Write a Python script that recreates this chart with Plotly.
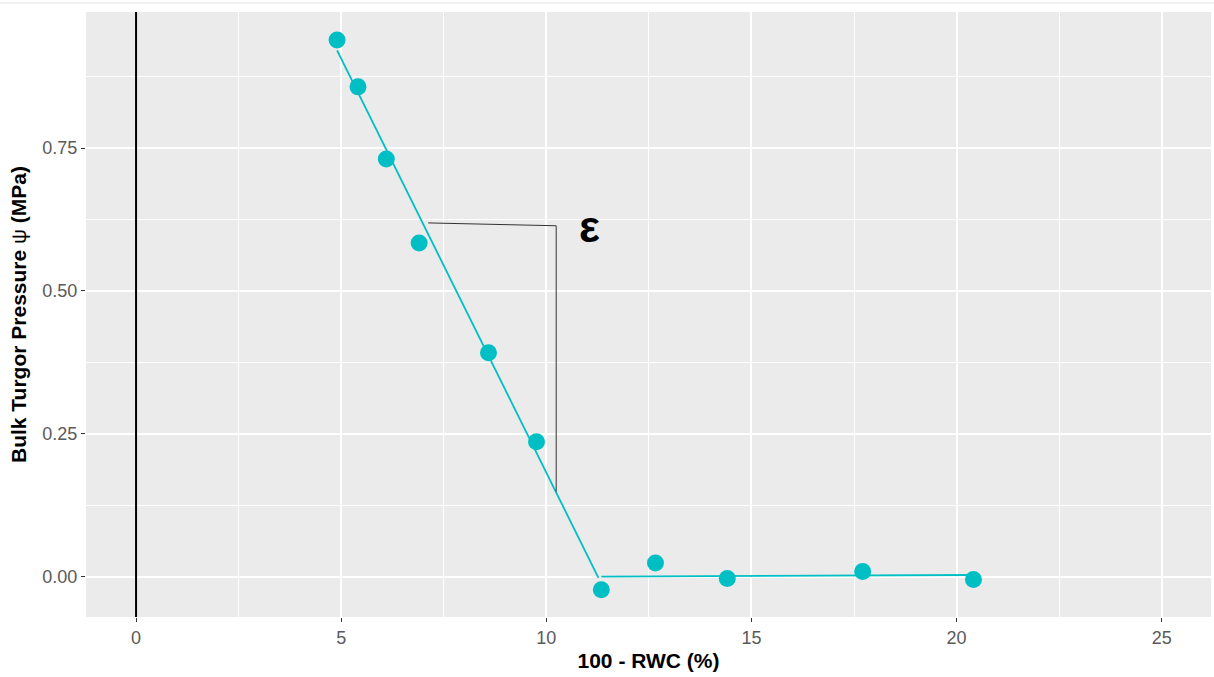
import plotly.graph_objects as go

# Data
rwc_loss = [4.90, 5.41, 6.10, 6.90, 8.59, 9.76, 11.34, 12.66, 14.41, 17.71, 20.41]
turgor = [0.939, 0.857, 0.731, 0.584, 0.392, 0.236, -0.023, 0.024, -0.003, 0.009, -0.005]

# fitted segments
fit1_x = [4.90, 11.27]
fit1_y = [0.921, -0.002]
fit2_x = [11.34, 15.5, 19.2, 20.41]
fit2_y = [0.000, 0.001, 0.003, 0.003]

# epsilon bracket
eps_x = [7.12, 10.24, 10.24]
eps_y = [0.619, 0.614, 0.149]

x_ticks = [0, 5, 10, 15, 20, 25]
y_ticks = [0.00, 0.25, 0.50, 0.75]
y_tick_text = ["0.00", "0.25", "0.50", "0.75"]

teal = "#00BFC4"
font_family = "Liberation Sans, Arial, sans-serif"

fig = go.Figure()

fig.add_trace(go.Scatter(x=fit1_x, y=fit1_y, mode="lines",
                         line=dict(color=teal, width=1.8), hoverinfo="skip"))
fig.add_trace(go.Scatter(x=fit2_x, y=fit2_y, mode="lines",
                         line=dict(color=teal, width=1.8), hoverinfo="skip"))
fig.add_trace(go.Scatter(x=eps_x, y=eps_y, mode="lines",
                         line=dict(color="#333333", width=1), hoverinfo="skip"))
fig.add_trace(go.Scatter(x=rwc_loss, y=turgor, mode="markers",
                         marker=dict(color=teal, size=17, line=dict(width=0))))

fig.add_vline(x=0, line=dict(color="black", width=2))

fig.add_annotation(x=11.05, y=0.612, text="<b>ε</b>", showarrow=False,
                   font=dict(size=44, color="black", family=font_family),
                   xanchor="center", yanchor="middle")

# thin light line at top of image
fig.add_shape(type="line", xref="paper", yref="paper", x0=-0.08, x1=1.01,
              y0=1.0149, y1=1.0149, line=dict(color="#e3e3e3", width=1))

fig.update_layout(
    width=1214, height=677,
    margin=dict(l=86, r=3, t=12, b=60),
    paper_bgcolor="white",
    plot_bgcolor="#EBEBEB",
    showlegend=False,
    font=dict(family=font_family),
    xaxis=dict(
        range=[-1.22, 26.2],
        tickvals=x_ticks, ticktext=[str(v) for v in x_ticks],
        showgrid=True, gridcolor="white", gridwidth=1.5,
        zeroline=False,
        ticks="outside", ticklen=4, tickwidth=1, tickcolor="#333333",
        tickfont=dict(size=18, color="#5a5a5a"),
        minor=dict(tickvals=[2.5, 7.5, 12.5, 17.5, 22.5], showgrid=True,
                   gridcolor="white", gridwidth=0.8, ticks=""),
        title=dict(text="<b>100 - RWC (%)</b>", font=dict(size=21, color="black"),
                   standoff=6),
    ),
    yaxis=dict(
        range=[-0.0705, 0.988],
        tickvals=y_ticks, ticktext=y_tick_text,
        showgrid=True, gridcolor="white", gridwidth=1.5,
        zeroline=False,
        ticks="outside", ticklen=4, tickwidth=1, tickcolor="#333333",
        tickfont=dict(size=18, color="#5a5a5a"),
        minor=dict(tickvals=[-0.125, 0.125, 0.375, 0.625, 0.875], showgrid=True,
                   gridcolor="white", gridwidth=0.8, ticks=""),
        title=dict(text="<b>Bulk Turgor Pressure</b> ψ <b>(MPa)</b>",
                   font=dict(size=21, color="black"), standoff=10),
    ),
)

fig.write_html("out.html")
